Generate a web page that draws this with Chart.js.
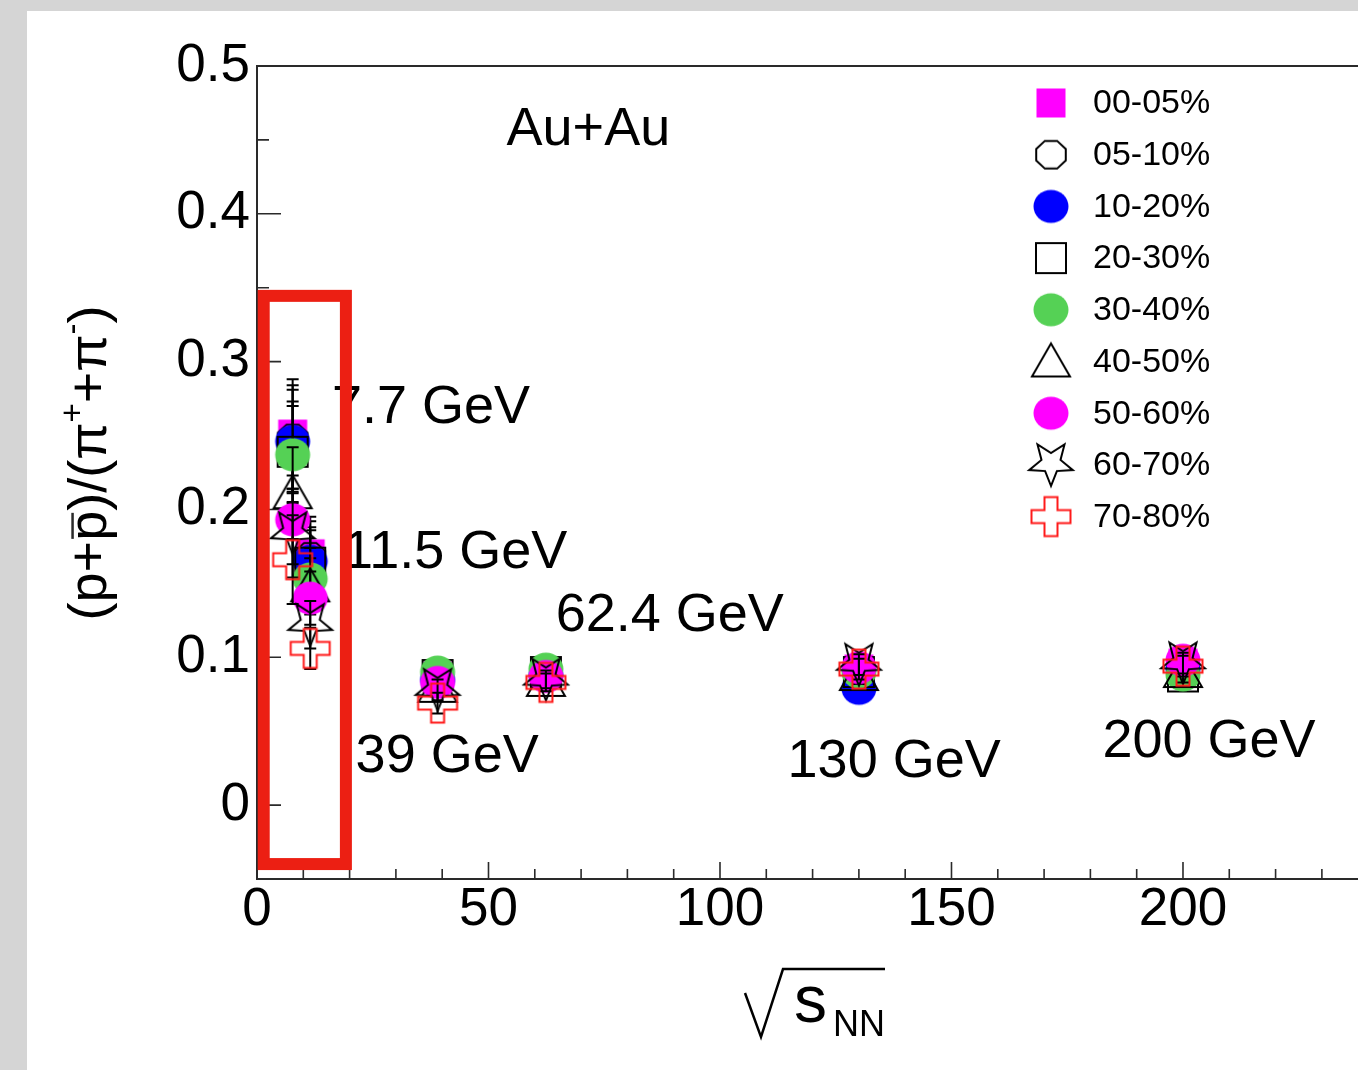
<!DOCTYPE html>
<html>
<head>
<meta charset="utf-8">
<script src="https://cdn.jsdelivr.net/npm/chart.js@4.4.1/dist/chart.umd.min.js"></script>
<style>
  html, body { margin: 0; padding: 0; background: #d5d5d5; overflow: hidden; }
  #wrap { position: absolute; left: 27px; top: 11px; width: 1331px; height: 1059px; background: #fff; }
  canvas { display: block; }
</style>
</head>
<body>
<div id="wrap"><canvas id="myChart" width="1331" height="1059" style="width:1331px;height:1059px"></canvas></div>
<script>
const FONT = "'Liberation Sans', Arial, Helvetica, sans-serif";

// beam energies (GeV)
const energies = [7.7, 11.5, 39, 62.4, 130, 200];
const centLabels = ['00-05%', '05-10%', '10-20%', '20-30%', '30-40%', '40-50%', '50-60%', '60-70%', '70-80%'];

// (p+pbar)/(pi+ + pi-) per centrality, one value per energy
const ratio0005 = [0.251, 0.170, 0.088, 0.090, 0.092, 0.096];
const ratio0510 = [0.248, 0.168, 0.087, 0.089, 0.090, 0.094];
const ratio1020 = [0.246, 0.165, 0.085, 0.088, 0.079, 0.092];
const ratio2030 = [0.239, 0.164, 0.088, 0.090, 0.090, 0.087];
const ratio3040 = [0.237, 0.153, 0.090, 0.092, 0.090, 0.088];
const ratio4050 = [0.211, 0.148, 0.080, 0.084, 0.088, 0.090];
const ratio5060 = [0.193, 0.140, 0.083, 0.087, 0.093, 0.098];
const ratio6070 = [0.184, 0.122, 0.078, 0.085, 0.095, 0.096];
const ratio7080 = [0.166, 0.106, 0.069, 0.083, 0.092, 0.094];

// errors
const err0005 = [0.037, 0.025, 0.006, 0.005, 0.006, 0.006];
const err0510 = [0.036, 0.024, 0.006, 0.005, 0.006, 0.006];
const err1020 = [0.035, 0.023, 0.006, 0.005, 0.006, 0.006];
const err2030 = [0.034, 0.022, 0.006, 0.005, 0.006, 0.006];
const err3040 = [0.033, 0.021, 0.006, 0.006, 0.006, 0.006];
const err4050 = [0.031, 0.019, 0.006, 0.006, 0.006, 0.007];
const err5060 = [0.030, 0.018, 0.006, 0.006, 0.006, 0.007];
const err6070 = [0.030, 0.016, 0.007, 0.006, 0.007, 0.007];
const err7080 = [0.030, 0.014, 0.007, 0.006, 0.007, 0.007];

const ratios = [ratio0005, ratio0510, ratio1020, ratio2030, ratio3040, ratio4050, ratio5060, ratio6070, ratio7080];
const errors = [err0005, err0510, err1020, err2030, err3040, err4050, err5060, err6070, err7080];

const xTickValues = [0, 50, 100, 150, 200];
const xTickLabels = ['0', '50', '100', '150', '200'];
const yTickValues = [0, 0.1, 0.2, 0.3, 0.4, 0.5];
const yTickLabels = ['0', '0.1', '0.2', '0.3', '0.4', '0.5'];

const energyText = ['7.7 GeV', '11.5 GeV', '39 GeV', '62.4 GeV', '130 GeV', '200 GeV'];
// where the energy labels sit, in data units (left edge, vertical middle)
const energyTextPos = [[16.2, 0.2687], [18.6, 0.1703], [21.3, 0.0327], [64.5, 0.1276], [114.6, 0.0293], [182.6, 0.0429]];
const redBox = { x0: 1.45, x1: 19.2, y0: -0.0399, y1: 0.3445 };

// marker images (ROOT-ish style)
function marker(kind) {
  const c = document.createElement('canvas');
  c.width = 54; c.height = 54;
  const g = c.getContext('2d');
  g.translate(27, 27);
  g.lineWidth = 2;
  g.strokeStyle = '#000';
  if (kind === 'sqFill') {
    g.fillStyle = '#ff00ff';
    g.fillRect(-14.5, -14.5, 29, 29);
  } else if (kind === 'octOpen') {
    g.beginPath();
    for (let k = 0; k < 8; k++) {
      const a = Math.PI / 8 + k * Math.PI / 4;
      g.lineTo(16 * Math.cos(a), 15 * Math.sin(a));
    }
    g.closePath();
    g.stroke();
  } else if (kind === 'circBlue' || kind === 'circGreen' || kind === 'circMag') {
    g.fillStyle = kind === 'circBlue' ? '#0000ff' : kind === 'circGreen' ? '#55d155' : '#ff00ff';
    g.beginPath();
    g.ellipse(0, 0, 17.5, 16.5, 0, 0, Math.PI * 2);
    g.fill();
  } else if (kind === 'sqOpen') {
    g.strokeRect(-15, -15, 30, 30);
  } else if (kind === 'triOpen') {
    g.beginPath();
    g.moveTo(0, -18);
    g.lineTo(19, 15);
    g.lineTo(-19, 15);
    g.closePath();
    g.stroke();
  } else if (kind === 'starOpen') {
    g.beginPath();
    for (let k = 0; k < 10; k++) {
      const a = Math.PI / 2 + k * Math.PI / 5;
      const r = k % 2 === 0 ? 23 : 10;
      g.lineTo(r * Math.cos(a), r * Math.sin(a) - 2);
    }
    g.closePath();
    g.stroke();
  } else if (kind === 'crossOpen') {
    g.strokeStyle = '#ff1a1a';
    const w = 6.5, L = 19.5;
    g.beginPath();
    g.moveTo(-w, -L); g.lineTo(w, -L); g.lineTo(w, -w); g.lineTo(L, -w); g.lineTo(L, w); g.lineTo(w, w);
    g.lineTo(w, L); g.lineTo(-w, L); g.lineTo(-w, w); g.lineTo(-L, w); g.lineTo(-L, -w); g.lineTo(-w, -w);
    g.closePath();
    g.stroke();
  }
  return c;
}

const markerKinds = ['sqFill', 'octOpen', 'circBlue', 'sqOpen', 'circGreen', 'triOpen', 'circMag', 'starOpen', 'crossOpen'];
const markers = markerKinds.map(marker);

const datasets = centLabels.map((lab, i) => ({
  label: lab,
  data: energies.map((e, j) => ({ x: e, y: ratios[i][j] })),
  pointStyle: markers[i],
  pointRadius: 16,
  pointHoverRadius: 16,
  showLine: false,
  order: centLabels.length - i
}));

const rootStyle = {
  id: 'rootStyle',
  beforeDatasetDraw(chart, args) {
    const i = args.index;
    const xs = chart.scales.x, ys = chart.scales.y;
    const c = chart.ctx;
    c.save();
    c.strokeStyle = '#000';
    c.lineWidth = 2;
    energies.forEach((e, j) => {
      const px = xs.getPixelForValue(e);
      const t = ys.getPixelForValue(ratios[i][j] + errors[i][j]);
      const b = ys.getPixelForValue(ratios[i][j] - errors[i][j]);
      c.beginPath();
      c.moveTo(px, t); c.lineTo(px, b);
      c.moveTo(px - 6, t); c.lineTo(px + 6, t);
      c.moveTo(px - 6, b); c.lineTo(px + 6, b);
      c.stroke();
    });
    c.restore();
  },
  beforeDatasetsDraw(chart) {
    const c = chart.ctx, a = chart.chartArea;
    const xs = chart.scales.x, ys = chart.scales.y;
    c.save();
    // frame
    c.strokeStyle = '#2a2a2a';
    c.lineWidth = 2;
    c.beginPath();
    c.moveTo(a.right, a.top); c.lineTo(a.left, a.top); c.lineTo(a.left, a.bottom); c.lineTo(a.right, a.bottom);
    c.stroke();
    // ticks (inward)
    c.lineWidth = 1.6;
    c.beginPath();
    for (let v = 0; v <= 237; v += 10) {
      const px = xs.getPixelForValue(v);
      const len = v % 50 === 0 ? 17 : 10;
      c.moveTo(px, a.bottom); c.lineTo(px, a.bottom - len);
    }
    for (let k = 0; k <= 10; k++) {
      const v = k * 0.05;
      const py = ys.getPixelForValue(v);
      const len = k % 2 === 0 ? 24 : 12;
      c.moveTo(a.left, py); c.lineTo(a.left + len, py);
    }
    c.stroke();
    // texts
    c.fillStyle = '#000';
    c.font = '54px ' + FONT;
    c.textAlign = 'left';
    c.textBaseline = 'middle';
    c.fillText('Au+Au', xs.getPixelForValue(53.9), ys.getPixelForValue(0.4565));
    energyText.forEach((t, k) => {
      c.fillText(t, xs.getPixelForValue(energyTextPos[k][0]), ys.getPixelForValue(energyTextPos[k][1]));
    });
    // legend
    c.font = '34px ' + FONT;
    centLabels.forEach((lab, k) => {
      const ly = 92 + k * 51.7;
      const m = markers[k];
      c.drawImage(m, 1024 - m.width / 2, ly - m.height / 2);
      c.fillText(lab, 1066, ly + 1);
    });
    // y title
    drawYTitle(c, 65, 452);
    // x title
    c.font = '66px ' + FONT;
    c.textBaseline = 'alphabetic';
    c.fillText('s', 767, 1011);
    c.font = '36px ' + FONT;
    c.fillText('NN', 806, 1025);
    c.lineWidth = 2.5;
    c.strokeStyle = '#000';
    c.beginPath();
    c.moveTo(718, 982); c.lineTo(734, 1026); c.lineTo(756, 958); c.lineTo(858, 958);
    c.stroke();
    c.restore();
  },
  afterDraw(chart) {
    const c = chart.ctx;
    const xs = chart.scales.x, ys = chart.scales.y;
    const x0 = xs.getPixelForValue(redBox.x0), x1 = xs.getPixelForValue(redBox.x1);
    const y0 = ys.getPixelForValue(redBox.y1), y1 = ys.getPixelForValue(redBox.y0);
    c.save();
    c.strokeStyle = '#ec1f13';
    c.lineWidth = 12;
    c.strokeRect(x0, y0, x1 - x0, y1 - y0);
    c.restore();
  }
};

function drawYTitle(c, cx, cy) {
  const F = 54;
  const parts = [
    { t: '(p+' }, { t: 'p', bar: true }, { t: ')/(π' }, { t: '+', sup: true },
    { t: '+π' }, { t: '-', sup: true }, { t: ')' }
  ];
  c.save();
  c.translate(cx, cy);
  c.rotate(-Math.PI / 2);
  c.textBaseline = 'alphabetic';
  c.textAlign = 'left';
  let total = 0;
  parts.forEach(p => {
    c.font = (p.sup ? Math.round(F * 0.62) : F) + 'px ' + FONT;
    p.w = c.measureText(p.t).width;
    total += p.w;
  });
  const base = 0.26 * F;
  let x = -total / 2;
  parts.forEach(p => {
    c.font = (p.sup ? Math.round(F * 0.62) : F) + 'px ' + FONT;
    const y = p.sup ? base - 0.42 * F : base;
    c.fillText(p.t, x, y);
    if (p.bar) {
      c.lineWidth = 2.5;
      c.beginPath();
      c.moveTo(x + 2, base - 0.62 * F);
      c.lineTo(x + p.w - 2, base - 0.62 * F);
      c.stroke();
    }
    x += p.w;
  });
  c.restore();
}

const config = {
  type: 'scatter',
  data: { datasets },
  options: {
    responsive: false,
    animation: false,
    events: [],
    layout: { autoPadding: false, padding: { top: 55, right: 0, left: 0, bottom: 0 } },
    plugins: { legend: { display: false }, tooltip: { enabled: false } },
    scales: {
      x: {
        type: 'linear',
        min: 0,
        max: 237.8,
        afterFit: s => { s.height = 191; s.paddingLeft = 0; s.paddingRight = 0; },
        afterBuildTicks: s => { s.ticks = xTickValues.map(v => ({ value: v })); },
        grid: { display: false, drawTicks: false },
        border: { display: false },
        ticks: {
          padding: 0, maxRotation: 0, autoSkip: false, color: '#000',
          font: { family: FONT, size: 53 },
          callback: (v, i) => xTickLabels[i]
        }
      },
      y: {
        type: 'linear',
        min: -0.05,
        max: 0.5,
        afterFit: s => { s.width = 230; s.paddingTop = 0; s.paddingBottom = 0; },
        afterBuildTicks: s => { s.ticks = yTickValues.map(v => ({ value: v })); },
        grid: { display: false, drawTicks: false },
        border: { display: false },
        ticks: {
          padding: 7, autoSkip: false, color: '#000',
          font: { family: FONT, size: 53 },
          callback: (v, i) => yTickLabels[i]
        }
      }
    }
  },
  plugins: [rootStyle]
};

const myChart = new Chart(document.getElementById('myChart'), config);
</script>
</body>
</html>
